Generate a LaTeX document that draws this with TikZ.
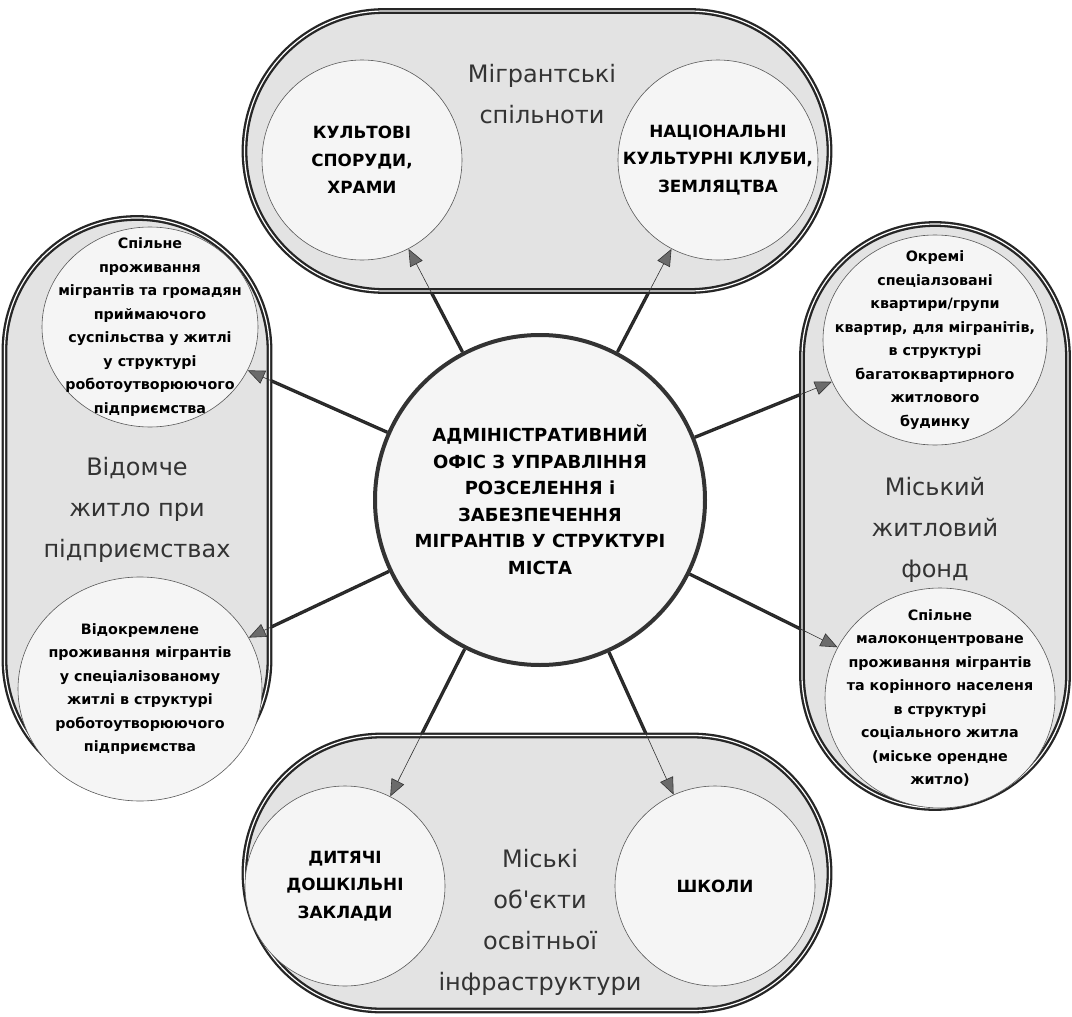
\documentclass[tikz,border=0pt]{standalone}
\usepackage{fontspec}
\setmainfont{DejaVu Sans}
\usetikzlibrary{shapes.geometric,arrows.meta}
\pgfdeclarelayer{back}
\pgfsetlayers{back,main}

\begin{document}
\begin{tikzpicture}[x=1pt,y=-1pt,
  band/.style={draw=black!85, fill=black!11, line width=2.3pt, double=white, double distance=1.2pt},
  disc/.style={ellipse, draw=black!65, fill=black!4, line width=0.6pt, inner sep=0pt},
  smalltxt/.style={align=center, font=\bfseries\fontsize{14.3}{23.5}\selectfont},
  captxt/.style={align=center, font=\bfseries\fontsize{16.8}{27.5}\selectfont},
  bandtxt/.style={align=center, text=black!80, font=\fontsize{24}{41}\selectfont},
  spoke/.style={draw=black!85, line width=3.3pt},
  feed/.style={draw=black!80, line width=0.6pt, -{Triangle[length=17pt,width=14pt,fill=black!58]}}]
\useasboundingbox (0,0) rectangle (1072,1017);

\node[band, rounded corners=140pt, minimum width=585, minimum height=280] (topband) at (537,151) {};
\node[band, rounded corners=132pt, minimum width=265, minimum height=574] (leftband) at (137,505) {};
\node[band, rounded corners=133pt, minimum width=266, minimum height=584] (rightband) at (935,516) {};
\node[band, rounded corners=137pt, minimum width=585, minimum height=275] (botband) at (537,873) {};

\node[bandtxt] (toplbl) at (542,94) {Мігрантські\\спільноти};
\node[bandtxt] (leftlbl) at (137,510) {Відомче\\житло при\\підприємствах};
\node[bandtxt] (rightlbl) at (935,530) {Міський\\житловий\\фонд};
\node[bandtxt] (botlbl) at (540,922) {Міські\\об\textquotesingle єкти\\освітньої\\інфраструктури};

\node[disc, minimum width=200, minimum height=200, label={[captxt]center:{КУЛЬТОВІ\\СПОРУДИ,\\ХРАМИ}}] (cult) at (362,160) {};
\node[disc, minimum width=200, minimum height=200, label={[captxt]center:{НАЦІОНАЛЬНІ\\КУЛЬТУРНІ КЛУБИ,\\ЗЕМЛЯЦТВА}}] (clubs) at (718,160) {};
\node[disc, minimum width=216, minimum height=200, label={[smalltxt]center:{Спільне\\проживання\\мігрантів та громадян\\приймаючого\\суспільства у житлі\\у структурі\\роботоутворюючого\\підприємства}}] (lup) at (150,327) {};
\node[disc, minimum width=244, minimum height=224, label={[smalltxt]center:{Відокремлене\\проживання мігрантів\\у спеціалізованому\\житлі в структурі\\роботоутворюючого\\підприємства}}] (llow) at (140,689) {};
\node[disc, minimum width=224, minimum height=210, label={[smalltxt]center:{Окремі\\спеціалзовані\\квартири/групи\\квартир, для мігранітів,\\в структурі\\багатоквартирного\\житлового\\будинку}}] (rup) at (935,340) {};
\node[disc, minimum width=230, minimum height=220, label={[smalltxt]center:{Спільне\\малоконцентроване\\проживання мігрантів\\та корінного населеня\\в структурі\\соціального житла\\(міське орендне\\житло)}}] (rlow) at (940,698) {};
\node[disc, minimum width=200, minimum height=200, label={[captxt]center:{ДИТЯЧІ\\ДОШКІЛЬНІ\\ЗАКЛАДИ}}] (kinder) at (345,886) {};
\node[disc, minimum width=200, minimum height=200, label={[captxt]center:{ШКОЛИ}}] (school) at (715,886) {};

\node[circle, draw=black!80, fill=black!4, line width=4pt, minimum size=330, align=center,
  font=\bfseries\fontsize{18}{26.5}\selectfont] (hub) at (540,500)
  {АДМІНІСТРАТИВНИЙ\\ОФІС З УПРАВЛІННЯ\\РОЗСЕЛЕННЯ і\\ЗАБЕЗПЕЧЕННЯ\\МІГРАНТІВ У СТРУКТУРІ\\МІСТА};

\begin{pgfonlayer}{back}
\foreach \t in {cult,clubs,lup,llow,rup,rlow,kinder,school}
  \draw[spoke] (hub) -- (\t);
\end{pgfonlayer}
\foreach \t in {cult,clubs,lup,llow,rup,rlow,kinder,school}
  \draw[feed] (hub) -- (\t);
\end{tikzpicture}
\end{document}
